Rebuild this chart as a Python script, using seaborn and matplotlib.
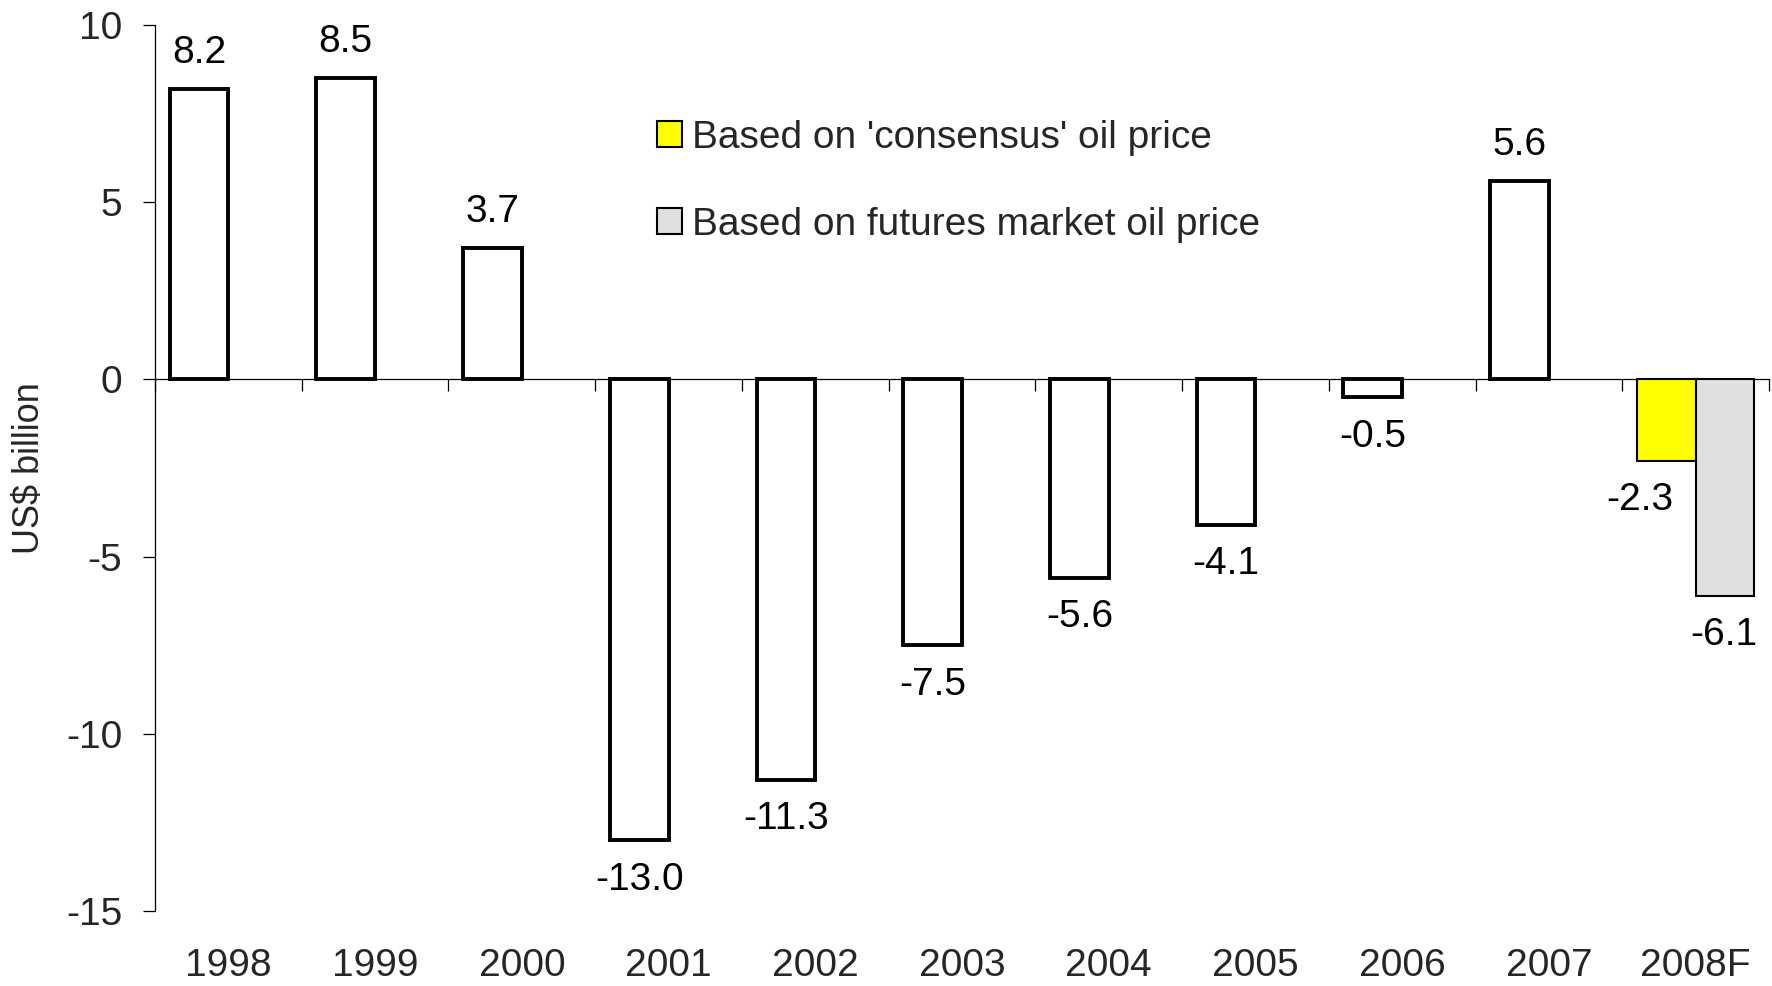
import matplotlib
matplotlib.use("Agg")
import matplotlib.pyplot as plt
import numpy as np
import pandas as pd
import seaborn as sns

# ---- data ----
years = ['1998', '1999', '2000', '2001', '2002', '2003', '2004', '2005',
         '2006', '2007', '2008F']
hist_years = years[:10]
hist_values = [8.2, 8.5, 3.7, -13.0, -11.3, -7.5, -5.6, -4.1, -0.5, 5.6]
f_year = '2008F'
f_series = ["Based on 'consensus' oil price", "Based on futures market oil price"]
f_values = [-2.3, -6.1]
f_colors = ['#ffff00', '#e0e0e0']
yticks = [-15, -10, -5, 0, 5, 10]

sns.set_theme(style='white')
plt.rcParams['font.family'] = ['Liberation Sans', 'DejaVu Sans']

W, H = 1772, 986
fig = plt.figure(figsize=(W / 100, H / 100), dpi=100)
ax = fig.add_axes([155 / W, 1 - 911 / H, (1769 - 155) / W, (911 - 25) / H])

# historical values sit in the first (left) cluster slot
df_hist = pd.DataFrame({'year': hist_years, 'value': hist_values,
                        'series': [f_series[0]] * len(hist_values)})
df_f = pd.DataFrame({'year': [f_year] * len(f_values), 'series': f_series,
                     'value': f_values})

sns.barplot(data=df_hist, x='year', y='value', hue='series', order=years,
            hue_order=f_series, palette=['white', 'white'], saturation=1,
            edgecolor='black', linewidth=2.8, width=0.8, dodge=True, ax=ax,
            errorbar=None, legend=False)
sns.barplot(data=df_f, x='year', y='value', hue='series', order=years,
            hue_order=f_series, palette=f_colors, saturation=1,
            edgecolor='black', linewidth=1.5, width=0.8, dodge=True, ax=ax,
            errorbar=None, legend=True)

ax.set_xlim(-0.5, len(years) - 0.5)
ax.set_ylim(-15, 10)
ax.set_yticks(yticks)
ax.set_yticklabels([str(t) for t in yticks])

for s in ['top', 'right', 'bottom']:
    ax.spines[s].set_visible(False)
ax.spines['left'].set_color('black')
ax.spines['left'].set_linewidth(0.9)

ax.tick_params(axis='y', direction='out', length=8.6, width=0.9, color='black',
               labelsize=28, pad=15, left=True)
ax.tick_params(axis='x', length=0, labelsize=28, pad=27, bottom=True)
ax.set_xlabel('')
ax.set_ylabel(r'US\$ billion', fontsize=26, labelpad=14)

# zero axis line with category-boundary ticks
sec = ax.secondary_xaxis(15 / 25)
sec.set_alignment('bottom')
sec.set_xticks(np.arange(-0.5, len(years), 1.0))
sec.set_xticklabels([])
sec.tick_params(axis='x', direction='out', length=8.6, width=0.9, color='black',
                bottom=True)
sec.spines['bottom'].set_color('black')
sec.spines['bottom'].set_linewidth(0.9)

# value labels
hist_bars = [p for p in ax.containers[0] if np.isfinite(p.get_height())]
for rect, v in zip(hist_bars, hist_values):
    x = rect.get_x() + rect.get_width() / 2
    ax.annotate(f'{v:.1f}', (x, v), xytext=(0, 13 if v > 0 else -15.5),
                textcoords='offset points', ha='center',
                va='bottom' if v > 0 else 'top', fontsize=28, color='black')

offsets = [-19, -1]
f_conts = ax.containers[-len(f_values):]
for cont, v, dx in zip(f_conts, f_values, offsets):
    rect = [p for p in cont if np.isfinite(p.get_height())][0]
    x = rect.get_x() + rect.get_width() / 2
    ax.annotate(f'{v:.1f}', (x, v), xytext=(dx, -15.5),
                textcoords='offset points', ha='center', va='top',
                fontsize=28, color='black')

sns.move_legend(ax, 'upper left', bbox_to_anchor=(657 / W, 1 - 120 / H),
                bbox_transform=fig.transFigure, frameon=False, title=None,
                fontsize=28, handlelength=0.64, handleheight=0.64,
                handletextpad=0.27, labelspacing=1.3, borderpad=0,
                borderaxespad=0)

fig.savefig('out.png', dpi=100, facecolor='white')
